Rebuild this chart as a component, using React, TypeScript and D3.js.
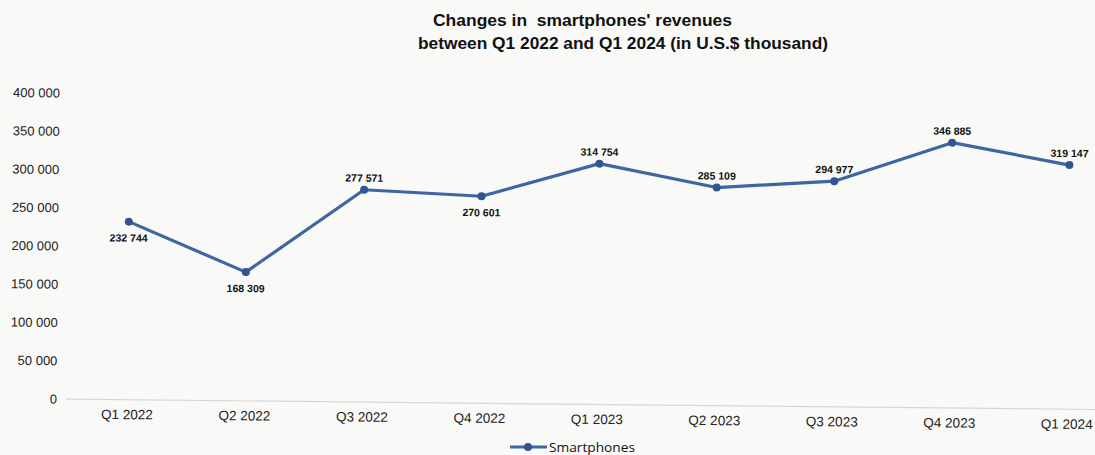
import * as d3 from "d3";

const quarters = [
  "Q1 2022", "Q2 2022", "Q3 2022", "Q4 2022",
  "Q1 2023", "Q2 2023", "Q3 2023", "Q4 2023", "Q1 2024"
];
const revenues = [232744, 168309, 277571, 270601, 314754, 285109, 294977, 346885, 319147];
const yTickValues = [0, 50000, 100000, 150000, 200000, 250000, 300000, 350000, 400000];
// where each data label sits relative to its point
const labelSide = ["below", "below", "above", "below", "above", "above", "above", "above", "above"];

const titleLines = [
  "Changes in  smartphones' revenues",
  "between Q1 2022 and Q1 2024 (in U.S.$ thousand)"
];
const seriesName = "Smartphones";

const width = 1095;
const height = 455;
const blue = "#3d66a2";
const tilt = 0.58; // the scan is slightly rotated

const fmt = d3.formatLocale({
  decimal: ".",
  thousands: " ",
  grouping: [3],
  currency: ["", ""]
}).format(",d");

export default function App() {
  const x = d3.scalePoint<string>()
    .domain(quarters)
    .range([127, 1067]);

  const y = d3.scaleLinear()
    .domain([0, 400000])
    .range([399, 93]);

  const line = d3.line<number>()
    .x((_, i) => x(quarters[i]) as number)
    .y(d => y(d));

  return (
    <>
      <style>{"body{margin:0}"}</style>
      <svg width={width} height={height} style={{ display: "block", background: "#f9f9f7" }}>

        {/* Title */}
        <g fontFamily="'Liberation Sans', Arial, sans-serif" fontWeight="bold" fontSize="16" fill="#111">
          <text x={433} y={26} textLength={299} lengthAdjust="spacingAndGlyphs" style={{ whiteSpace: "pre" }}>
            {titleLines[0]}
          </text>
          <text x={418} y={49} textLength={410} lengthAdjust="spacingAndGlyphs" style={{ whiteSpace: "pre" }}>
            {titleLines[1]}
          </text>
        </g>

        <g transform={`rotate(${tilt}, 60, 399)`}>
          {/* Y ticks */}
          {yTickValues.map(t => (
            <text
              key={t}
              x={57}
              y={y(t)}
              textAnchor="end"
              dominantBaseline="central"
              fontFamily="'Liberation Sans', Arial, sans-serif"
              fontSize="13"
              fill="#222"
            >
              {fmt(t)}
            </text>
          ))}

          {/* Baseline */}
          <line x1={66} x2={1130} y1={y(0)} y2={y(0)} stroke="#d6d6d6" strokeWidth={1.2} />

          {/* X ticks */}
          {quarters.map(q => (
            <text
              key={q}
              x={x(q)}
              y={y(0) + 15}
              textAnchor="middle"
              dominantBaseline="central"
              fontFamily="'Liberation Sans', Arial, sans-serif"
              fontSize="13.5"
              fill="#222"
            >
              {q}
            </text>
          ))}

          {/* Line */}
          <path d={line(revenues) ?? ""} fill="none" stroke={blue} strokeWidth={3.2} strokeLinejoin="round" />

          {/* Points */}
          {revenues.map((d, i) => (
            <circle key={i} cx={x(quarters[i])} cy={y(d)} r={4} fill="#2f5690" />
          ))}

          {/* Data labels */}
          {revenues.map((d, i) => (
            <text
              key={i}
              x={x(quarters[i])}
              y={y(d) + (labelSide[i] === "above" ? -12 : 16)}
              textAnchor="middle"
              dominantBaseline="central"
              fontFamily="'Liberation Sans', Arial, sans-serif"
              fontWeight="bold"
              fontSize="10.5"
              fill="#111"
            >
              {fmt(d)}
            </text>
          ))}
        </g>

        {/* Legend */}
        <g>
          <line x1={510} x2={547} y1={447} y2={447} stroke={blue} strokeWidth={3} />
          <circle cx={528} cy={447} r={4} fill="#2f5690" />
          <text
            x={549}
            y={447}
            dominantBaseline="central"
            fontFamily="'Open Sans', Calibri, sans-serif"
            fontSize="13.5"
            textLength={86}
            lengthAdjust="spacingAndGlyphs"
            fill="#111"
          >
            {seriesName}
          </text>
        </g>
      </svg>
    </>
  );
}
